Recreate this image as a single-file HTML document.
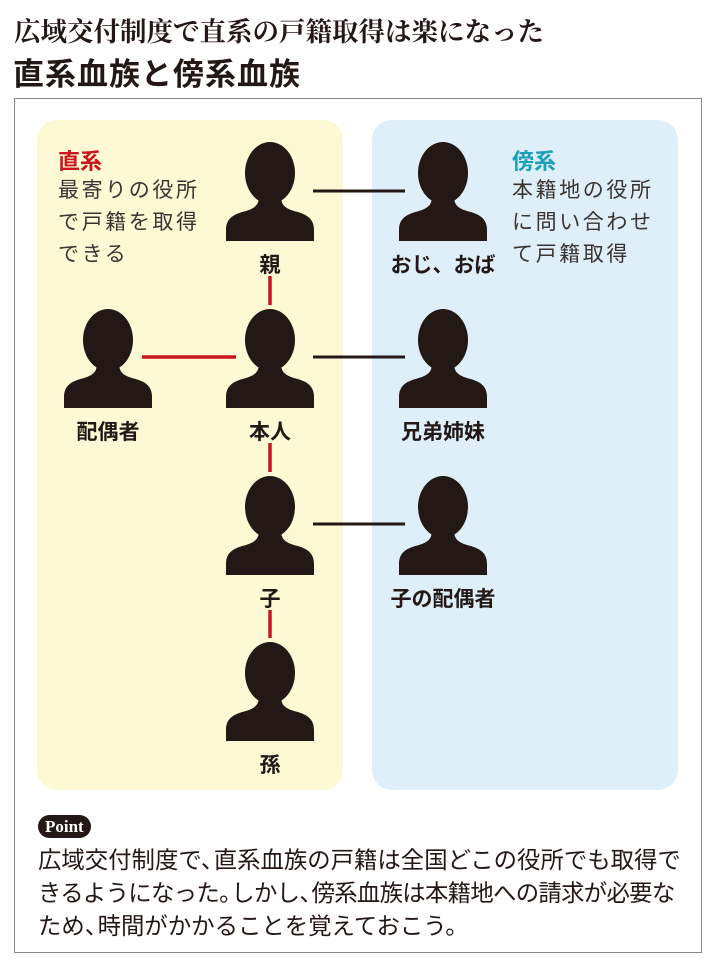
<!DOCTYPE html>
<html><head><meta charset="utf-8">
<style>
*{margin:0;padding:0;box-sizing:border-box}
body{width:710px;height:967px;background:#fff;position:relative;overflow:hidden;font-family:"Liberation Sans","Noto Sans CJK JP",sans-serif;color:#231815}
.abs{position:absolute;white-space:nowrap}
.t1{left:14px;top:10px;font-family:"Liberation Serif","Noto Serif CJK SC",serif;font-size:26.5px;font-weight:bold;letter-spacing:0px}
.t2{left:13px;top:49px;font-size:31px;font-weight:bold;letter-spacing:1px}
.box{position:absolute;left:14px;top:98px;width:688px;height:855px;border:1px solid #888}
.y{position:absolute;left:37px;top:120px;width:306px;height:670px;background:#fdf9d4;border-radius:20px}
.b{position:absolute;left:372px;top:120px;width:306px;height:670px;background:#deeff9;border-radius:20px}
.h{font-size:22px;font-weight:bold}
.d{font-size:21px;line-height:32px;letter-spacing:2.6px;color:#3a3331}
.lab{font-size:21px;font-weight:bold;transform:translateX(-50%)}
.p{left:38px;top:815px;background:#231815;color:#fff;font-family:"Liberation Serif",serif;font-weight:bold;font-size:17px;padding:1px 7px;border-radius:12px;height:23px;line-height:21px}
.pt{left:38px;top:844px;font-size:23.4px;line-height:33px;letter-spacing:0px;color:#231815}
.q{margin-right:-0.45em}
.l2{letter-spacing:-0.7px}
</style></head><body>
<div class="abs t1">広域交付制度で直系の戸籍取得は楽になった</div>
<div class="abs t2">直系血族と傍系血族</div>
<div class="box"></div>
<div class="y"></div>
<div class="b"></div>
<div class="abs h" style="left:58px;top:144px;color:#c8161e">直系</div>
<div class="abs d" style="left:58px;top:175px">最寄りの役所<br>で戸籍を取得<br>できる</div>
<div class="abs h" style="left:512px;top:144px;color:#1b9fb9">傍系</div>
<div class="abs d" style="left:512px;top:175px">本籍地の役所<br>に問い合わせ<br>て戸籍取得</div>
<svg width="710" height="967" style="position:absolute;left:0;top:0">
<defs>
<g id="p"><ellipse cx="44" cy="31" rx="25" ry="31" fill="#231815"/>
<path d="M0 99 L0 88 C0 76 8 72 20 69 C30 66 33 62 33 54 L55 54 C55 62 58 66 68 69 C80 72 88 76 88 88 L88 99 Z" fill="#231815"/></g>
</defs>
<use href="#p" x="226" y="142"/>
<use href="#p" x="399" y="142"/>
<use href="#p" x="64" y="309"/>
<use href="#p" x="226" y="309"/>
<use href="#p" x="399" y="309"/>
<use href="#p" x="226" y="476"/>
<use href="#p" x="399" y="476"/>
<use href="#p" x="226" y="642"/>
<g stroke="#231815" stroke-width="3">
<line x1="313" y1="191" x2="405" y2="191"/>
<line x1="313" y1="357" x2="405" y2="357"/>
<line x1="313" y1="524" x2="405" y2="524"/>
</g>
<g stroke="#c8161e" stroke-width="3.5">
<line x1="142" y1="357" x2="236" y2="357"/>
<line x1="270" y1="276" x2="270" y2="305"/>
<line x1="270" y1="443" x2="270" y2="472"/>
<line x1="270" y1="610" x2="270" y2="638"/>
</g>
</svg>
<div class="abs lab" style="left:270px;top:249px">親</div>
<div class="abs lab" style="left:443px;top:249px">おじ、おば</div>
<div class="abs lab" style="left:108px;top:416px">配偶者</div>
<div class="abs lab" style="left:270px;top:416px">本人</div>
<div class="abs lab" style="left:443px;top:416px">兄弟姉妹</div>
<div class="abs lab" style="left:270px;top:583px">子</div>
<div class="abs lab" style="left:443px;top:583px">子の配偶者</div>
<div class="abs lab" style="left:270px;top:749px">孫</div>
<div class="abs p">Point</div>
<div class="abs pt">広域交付制度で<span class="q">、</span>直系血族の戸籍は全国どこの役所でも取得で<br><span class="l2">きるようになった<span class="q">。</span>しかし<span class="q">、</span>傍系血族は本籍地への請求が必要な</span><br>ため<span class="q">、</span>時間がかかることを覚えておこう。</div>
</body></html>
